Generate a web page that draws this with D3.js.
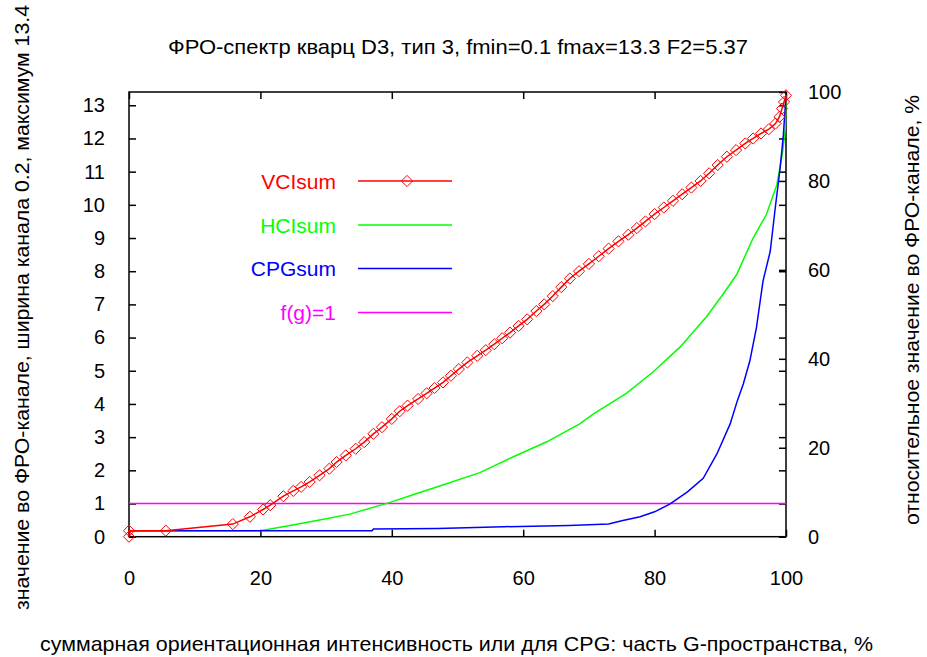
<!DOCTYPE html>
<html>
<head>
<meta charset="utf-8">
<script src="https://cdn.jsdelivr.net/npm/d3@7"></script>
<style>
  html, body { margin: 0; padding: 0; background: #fff; }
  svg { display: block; }
  text { font-family: "Liberation Sans", Arial, sans-serif; }
</style>
</head>
<body>
<svg id="chart" width="927" height="657"></svg>
<script>
// ---- data ----
const titleText = "ФРО-спектр кварц D3, тип 3, fmin=0.1 fmax=13.3 F2=5.37";
const xLabel = "суммарная ориентационная интенсивность или для CPG: часть G-пространства, %";
const yLabel = "значение во ФРО-канале, ширина канала 0.2, максимум 13.4";
const y2Label = "относительное значение во ФРО-канале, %";

const xTicks = [0, 20, 40, 60, 80, 100];
const yTicks = [0, 1, 2, 3, 4, 5, 6, 7, 8, 9, 10, 11, 12, 13];
const y2Ticks = [0, 20, 40, 60, 80, 100];

const seriesNames = ["VCIsum", "HCIsum", "CPGsum", "f(g)=1"];
const seriesColors = ["#ff0000", "#00ff00", "#0000ff", "#ff00ff"];

const vciX = [0, 0, 5.6, 15.8, 18.4, 20.4, 21.5, 23.5, 25, 26.2, 27.5, 29, 30.5, 31.6, 33, 34.5, 35.8, 37.2, 38.5, 40, 41.2, 42.4, 44, 45.3, 46.5, 47.8, 49, 50.2, 51.5, 53, 54.3, 55.6, 56.8, 58, 59.3, 60.6, 62, 63.2, 64.5, 65.8, 67.1, 68.5, 70, 71.5, 73, 74.5, 76, 77.3, 78.6, 80, 81.4, 82.8, 84.2, 85.6, 87, 88.3, 89.6, 91, 92.4, 93.8, 95, 96.2, 97.4, 98.4, 99, 99.4, 99.7, 100];
const vciY = [0, 0.18, 0.18, 0.38, 0.6, 0.82, 0.95, 1.22, 1.38, 1.5, 1.65, 1.85, 2.05, 2.25, 2.45, 2.65, 2.85, 3.1, 3.3, 3.55, 3.78, 3.95, 4.15, 4.32, 4.48, 4.65, 4.85, 5.05, 5.25, 5.45, 5.62, 5.8, 5.98, 6.15, 6.35, 6.55, 6.8, 7.0, 7.25, 7.52, 7.78, 8.0, 8.22, 8.45, 8.68, 8.9, 9.1, 9.3, 9.5, 9.72, 9.92, 10.12, 10.32, 10.52, 10.72, 10.95, 11.2, 11.45, 11.65, 11.85, 12.0, 12.15, 12.28, 12.45, 12.65, 12.9, 13.1, 13.3];

const hciX = [0, 20, 24.5, 29, 33.6, 39.5, 43.8, 47.3, 53.4, 58.5, 63.6, 68.6, 70.7, 75.7, 79.8, 83.9, 87.9, 90.5, 92.5, 95, 97, 98.6, 99.5, 99.9, 100];
const hciY = [0.18, 0.18, 0.34, 0.5, 0.68, 1.02, 1.3, 1.53, 1.93, 2.41, 2.86, 3.4, 3.7, 4.32, 4.97, 5.72, 6.63, 7.33, 7.9, 9.0, 9.7, 10.6, 11.6, 12.3, 13.3];

const cpgX = [0, 37, 37.2, 47, 57, 67, 73, 75, 77.8, 80, 82.3, 85, 87.4, 89.5, 91.5, 92.6, 93.5, 94.5, 95.5, 96.5, 97.6, 98.3, 99.1, 99.6, 100];
const cpgY = [0.18, 0.18, 0.23, 0.25, 0.3, 0.34, 0.38, 0.48, 0.6, 0.75, 0.98, 1.35, 1.76, 2.5, 3.4, 4.1, 4.6, 5.3, 6.3, 7.7, 8.6, 9.8, 11.1, 12.1, 13.3];

const fgX = [0, 100];
const fgY = [1, 1];

// ---- layout ----
const svg = d3.select("#chart");
const L = 129, R = 786, T = 92, B = 536.7;
const x = d3.scaleLinear().domain([0, 100]).range([L, R]);
const y = d3.scaleLinear().domain([0, 13.4]).range([B, T]);
const y2 = d3.scaleLinear().domain([0, 100]).range([B, T]);
const FS = 20;
const LFS = 21;
const tickLen = 7;

const g = svg.append("g");

function fitText(sel, len) {
  sel.attr("textLength", len).attr("lengthAdjust", "spacingAndGlyphs");
}

// title
g.append("text").attr("x", 458).attr("y", 54).attr("text-anchor", "middle")
  .attr("font-size", LFS).attr("fill", "#000").text(titleText).call(fitText, 580);

// axes labels
g.append("text").attr("x", 456.5).attr("y", 651).attr("text-anchor", "middle")
  .attr("font-size", LFS).attr("fill", "#000").text(xLabel).call(fitText, 833);
g.append("text").attr("transform", "translate(29,307.5) rotate(-90)").attr("text-anchor", "middle")
  .attr("font-size", LFS).attr("fill", "#000").text(yLabel).call(fitText, 605);
g.append("text").attr("transform", "translate(919,310) rotate(-90)").attr("text-anchor", "middle")
  .attr("font-size", LFS).attr("fill", "#000").text(y2Label).call(fitText, 430);

// axes with inward ticks
const axB = d3.axisBottom(x).tickValues(xTicks).tickSize(-tickLen).tickPadding(34).tickFormat(d3.format("d"));
const axT = d3.axisTop(x).tickValues(xTicks).tickSize(-tickLen).tickFormat("");
const axL = d3.axisLeft(y).tickValues(yTicks).tickSize(-tickLen).tickPadding(24).tickFormat(d3.format("d"));
const axRm = d3.axisRight(y).tickValues(yTicks).tickSize(-tickLen).tickFormat("");
const axR2 = d3.axisRight(y2).tickValues(y2Ticks).tickSize(-tickLen).tickPadding(22).tickFormat(d3.format("d"));

function styleAxis(sel) {
  sel.select(".domain").remove();
  sel.selectAll(".tick line").attr("stroke", "#000").attr("stroke-width", 1.5);
  sel.selectAll(".tick text").attr("font-size", FS).attr("fill", "#000")
    .attr("font-family", "'Liberation Sans', Arial, sans-serif");
}
g.append("g").attr("transform", `translate(0,${B})`).call(axB).call(styleAxis);
g.append("g").attr("transform", `translate(0,${T})`).call(axT).call(styleAxis);
g.append("g").attr("transform", `translate(${L},0)`).call(axL).call(styleAxis);
g.append("g").attr("transform", `translate(${R},0)`).call(axRm).call(styleAxis);
g.append("g").attr("transform", `translate(${R},0)`).call(axR2).call(styleAxis);

// frame
g.append("rect").attr("x", L).attr("y", T).attr("width", R - L).attr("height", B - T)
  .attr("fill", "none").attr("stroke", "#000").attr("stroke-width", 1.5);

// series
const line = d3.line().x(d => x(d[0])).y(d => y(d[1]));
const zip = (a, b) => a.map((v, i) => [v, b[i]]);
const seriesData = [zip(vciX, vciY), zip(hciX, hciY), zip(cpgX, cpgY), zip(fgX, fgY)];
const drawOrder = [3, 1, 2, 0];
drawOrder.forEach(i => {
  g.append("path").datum(seriesData[i]).attr("d", line)
    .attr("fill", "none").attr("stroke", seriesColors[i]).attr("stroke-width", 1.5);
});

const diamond = d3.symbol().type(d3.symbolDiamond2).size(80);
g.append("g").selectAll("path").data(seriesData[0]).join("path")
  .attr("transform", d => `translate(${x(d[0])},${y(d[1])})`)
  .attr("d", diamond).attr("fill", "none").attr("stroke", seriesColors[0]).attr("stroke-width", 1);

// legend
const legY = [181, 225, 268.5, 312.5];
const leg = g.append("g");
seriesNames.forEach((name, i) => {
  leg.append("text").attr("x", 336).attr("y", legY[i] + 7.5).attr("text-anchor", "end")
    .attr("font-size", LFS).attr("fill", seriesColors[i]).text(name);
  leg.append("line").attr("x1", 358).attr("x2", 452).attr("y1", legY[i]).attr("y2", legY[i])
    .attr("stroke", seriesColors[i]).attr("stroke-width", 1.5);
});
leg.append("path").attr("transform", `translate(407,${legY[0]})`).attr("d", diamond)
  .attr("fill", "none").attr("stroke", seriesColors[0]).attr("stroke-width", 1);
</script>
</body>
</html>
